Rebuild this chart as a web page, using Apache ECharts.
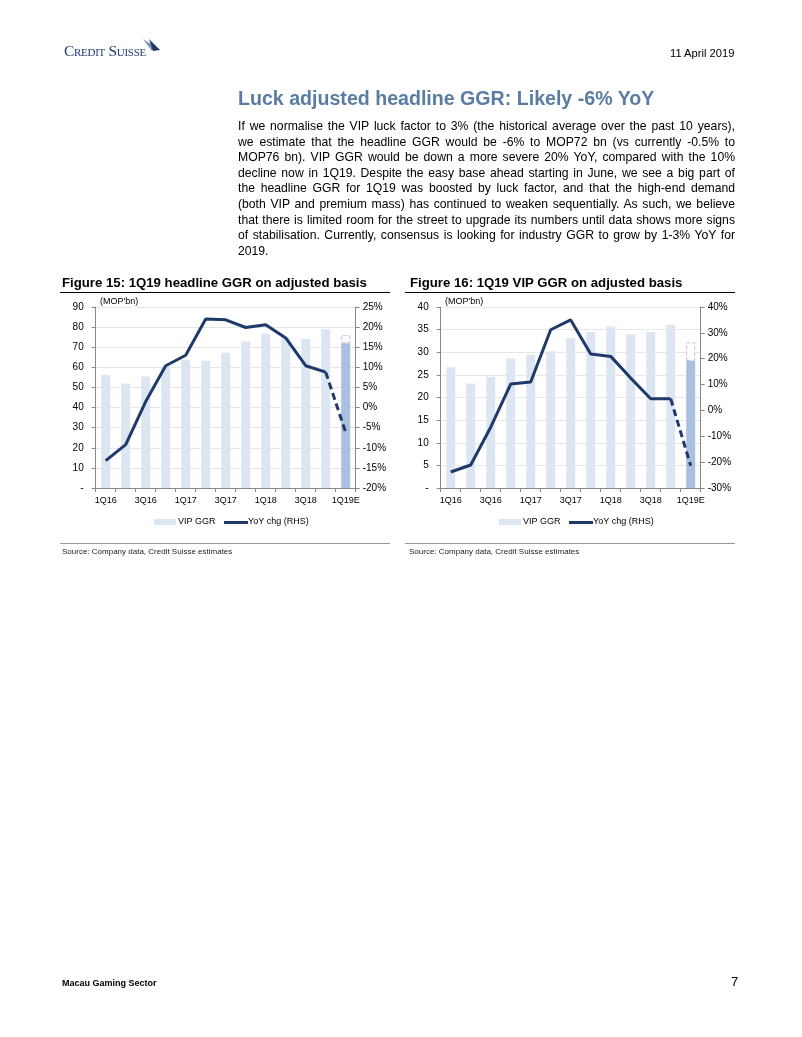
<!DOCTYPE html>
<html><head><meta charset="utf-8">
<script src="https://cdn.jsdelivr.net/npm/echarts@6/dist/echarts.min.js"></script>
<style>
html,body{margin:0;padding:0;background:#fff;}
body{width:802px;height:1037px;position:relative;overflow:hidden;font-family:Arial,"Liberation Sans",sans-serif;color:#000;}
.abs{position:absolute;white-space:nowrap;}
#chart{position:absolute;left:0;top:0;width:802px;height:1037px;}
#para{position:absolute;left:238px;top:118.9px;width:497px;font-size:12.2px;line-height:15.65px;}
#para div{text-align:justify;text-align-last:justify;white-space:nowrap;height:15.65px;}
#para div.last{text-align-last:left;}
</style></head>
<body>
<div id="chart"></div>
<div class="abs" style="left:64px;top:42px;font-family:'Liberation Serif',serif;font-variant:small-caps;font-size:15.5px;color:#1f3a6a;letter-spacing:-0.3px;">Credit Suisse</div>
<svg class="abs" style="left:141px;top:36px" width="22" height="20"><polygon points="2,3 13,10 11,15" fill="#7d8fae"/><polygon points="8,3 19,14 12,15" fill="#1f3a6a"/></svg>
<div class="abs" style="left:670px;top:47px;font-size:11.2px;">11 April 2019</div>
<div class="abs" style="left:238px;top:87px;font-size:19.6px;font-weight:bold;color:#5a7ca3;">Luck adjusted headline GGR: Likely -6% YoY</div>
<div id="para">
<div>If we normalise the VIP luck factor to 3% (the historical average over the past 10 years),</div>
<div>we estimate that the headline GGR would be -6% to MOP72 bn (vs currently -0.5% to</div>
<div>MOP76 bn). VIP GGR would be down a more severe 20% YoY, compared with the 10%</div>
<div>decline now in 1Q19. Despite the easy base ahead starting in June, we see a big part of</div>
<div>the headline GGR for 1Q19 was boosted by luck factor, and that the high-end demand</div>
<div>(both VIP and premium mass) has continued to weaken sequentially. As such, we believe</div>
<div>that there is limited room for the street to upgrade its numbers until data shows more signs</div>
<div>of stabilisation. Currently, consensus is looking for industry GGR to grow by 1-3% YoY for</div>
<div class="last">2019.</div>
</div>
<div class="abs" style="left:62px;top:275px;font-size:13.2px;font-weight:bold;">Figure 15: 1Q19 headline GGR on adjusted basis</div>
<div class="abs" style="left:410px;top:275px;font-size:13.2px;font-weight:bold;">Figure 16: 1Q19 VIP GGR on adjusted basis</div>
<div class="abs" style="left:60px;top:292px;width:330px;height:1px;background:#000;"></div>
<div class="abs" style="left:405px;top:292px;width:330px;height:1px;background:#000;"></div>
<div class="abs" style="left:60px;top:543px;width:330px;height:1px;background:#999;"></div>
<div class="abs" style="left:405px;top:543px;width:330px;height:1px;background:#999;"></div>
<div class="abs" style="left:62px;top:547px;font-size:8px;color:#222;">Source: Company data, Credit Suisse estimates</div>
<div class="abs" style="left:409px;top:547px;font-size:8px;color:#222;">Source: Company data, Credit Suisse estimates</div>
<div class="abs" style="left:62px;top:978px;font-size:9px;font-weight:bold;">Macau Gaming Sector</div>
<div class="abs" style="left:731px;top:974px;font-size:13px;">7</div>
<script>
// ---- data ----
const quarters = ['1Q16','2Q16','3Q16','4Q16','1Q17','2Q17','3Q17','4Q17','1Q18','2Q18','3Q18','4Q18','1Q19E'];
// Figure 15: headline GGR (MOP bn) and YoY %
const headlineGGR = [56.2, 51.9, 55.4, 60.5, 63.8, 63.3, 67.2, 72.8, 76.8, 75.0, 74.1, 78.9, 72];
const headlineReported1Q19 = 76;
const headlineYoY = [-13.2, -9.2, 1.5, 10.4, 13.0, 22.0, 21.8, 19.9, 20.6, 17.3, 10.4, 8.8, -6.2];
// Figure 16: VIP GGR (MOP bn) and YoY %
const vipGGR = [26.7, 23.1, 24.6, 28.6, 29.5, 30.2, 33.1, 34.5, 35.7, 34.0, 34.5, 36.1, 28.1];
const vipReported1Q19 = 32.2;
const vipYoY = [-23.8, -21.1, -6.5, 10.2, 11.0, 31.2, 35.0, 21.8, 20.9, 12.5, 4.5, 4.5, -21.4];
const leftTicks1 = {min:0, max:90, interval:10};
const rightTicks1 = {min:-20, max:25, interval:5};
const leftTicks2 = {min:0, max:40, interval:5};
const rightTicks2 = {min:-30, max:40, interval:10};

const BAR = '#dce6f2', BAR_LAST = '#a9c1de', LINE = '#1f3a6a';
const FONT = 'Arial, "Liberation Sans", sans-serif';
const n = quarters.length;

function barData(vals){ return vals.map((v,i)=> i===n-1 ? {value:v,itemStyle:{color:BAR_LAST}} : v); }
function solidLine(vals){ return vals.map((v,i)=> i<n-1 ? v : null); }
function dashLine(vals){ return vals.map((v,i)=> i>=n-2 ? v : null); }
function outline(solid, reported){ return solid.map((v,i)=> i===n-1 ? +(reported - v).toFixed(2) : null); }

const grids = [
  {left:95.7, top:307, width:260, height:181},
  {left:440.7, top:307, width:260, height:181}
];
const axisLabelStyle = {fontSize:10, color:'#000', fontFamily:FONT};
function xAxis(gi){
  return {type:'category', gridIndex:gi, data:quarters, boundaryGap:true,
    axisLine:{lineStyle:{color:'#888'}}, axisTick:{show:true, interval:0, length:4, lineStyle:{color:'#888'}},
    axisLabel:{interval:1, margin:8, fontSize:9, color:'#000', fontFamily:FONT}};
}
function yLeft(gi, t){
  return {type:'value', gridIndex:gi, position:'left', min:t.min, max:t.max, interval:t.interval,
    axisLine:{show:true, lineStyle:{color:'#888'}}, axisTick:{show:true, length:4, lineStyle:{color:'#888'}},
    splitLine:{show:true, lineStyle:{color:'#e6e6e6'}},
    axisLabel:Object.assign({margin:12, formatter:v=> v===0 ? '-' : String(v)}, axisLabelStyle)};
}
function yRight(gi, t){
  return {type:'value', gridIndex:gi, position:'right', min:t.min, max:t.max, interval:t.interval,
    axisLine:{show:true, lineStyle:{color:'#888'}}, axisTick:{show:true, length:4, lineStyle:{color:'#888'}},
    splitLine:{show:false},
    axisLabel:Object.assign({margin:7, formatter:v=> v+'%'}, axisLabelStyle)};
}
function seriesFor(gi, bars, reported, yoy){
  return [
    {type:'bar', name:'VIP GGR', xAxisIndex:gi, yAxisIndex:gi*2, stack:'s'+gi, barWidth:9, data:barData(bars), itemStyle:{color:BAR}, z:2, silent:true},
    {type:'bar', name:'outline', xAxisIndex:gi, yAxisIndex:gi*2, stack:'s'+gi, barWidth:9, data:outline(bars, reported),
      itemStyle:{color:'#fff', borderColor:'#b9c6d8', borderWidth:1, borderType:'dashed'}, z:2, silent:true},
    {type:'line', name:'YoY chg (RHS)', xAxisIndex:gi, yAxisIndex:gi*2+1, data:solidLine(yoy), symbol:'none',
      lineStyle:{color:LINE, width:3}, z:5, silent:true},
    {type:'line', name:'YoY chg (RHS)', xAxisIndex:gi, yAxisIndex:gi*2+1, data:dashLine(yoy), symbol:'none',
      lineStyle:{color:LINE, width:3, type:[7,4]}, z:5, silent:true}
  ];
}
function legendGraphics(x0){
  return [
    {type:'rect', left:x0, top:519, shape:{width:22, height:6}, style:{fill:BAR}},
    {type:'text', left:x0+24, top:517, style:{text:'VIP GGR', fontSize:9, fontFamily:FONT, fill:'#000'}},
    {type:'rect', left:x0+70, top:521, shape:{width:24, height:3}, style:{fill:LINE}},
    {type:'text', left:x0+94, top:517, style:{text:'YoY chg (RHS)', fontSize:9, fontFamily:FONT, fill:'#000'}},
  ];
}
const chart = echarts.init(document.getElementById('chart'), null, {renderer:'canvas'});
chart.setOption({
  animation:false,
  grid:grids,
  xAxis:[xAxis(0), xAxis(1)],
  yAxis:[yLeft(0,leftTicks1), yRight(0,rightTicks1), yLeft(1,leftTicks2), yRight(1,rightTicks2)],
  series:[...seriesFor(0, headlineGGR, headlineReported1Q19, headlineYoY), ...seriesFor(1, vipGGR, vipReported1Q19, vipYoY)],
  graphic:[
    {type:'text', left:100, top:297, style:{text:"(MOP'bn)", fontSize:9, fontFamily:FONT, fill:'#000'}},
    {type:'text', left:445, top:297, style:{text:"(MOP'bn)", fontSize:9, fontFamily:FONT, fill:'#000'}},
    ...legendGraphics(154), ...legendGraphics(499)
  ]
});
</script>
</body></html>
